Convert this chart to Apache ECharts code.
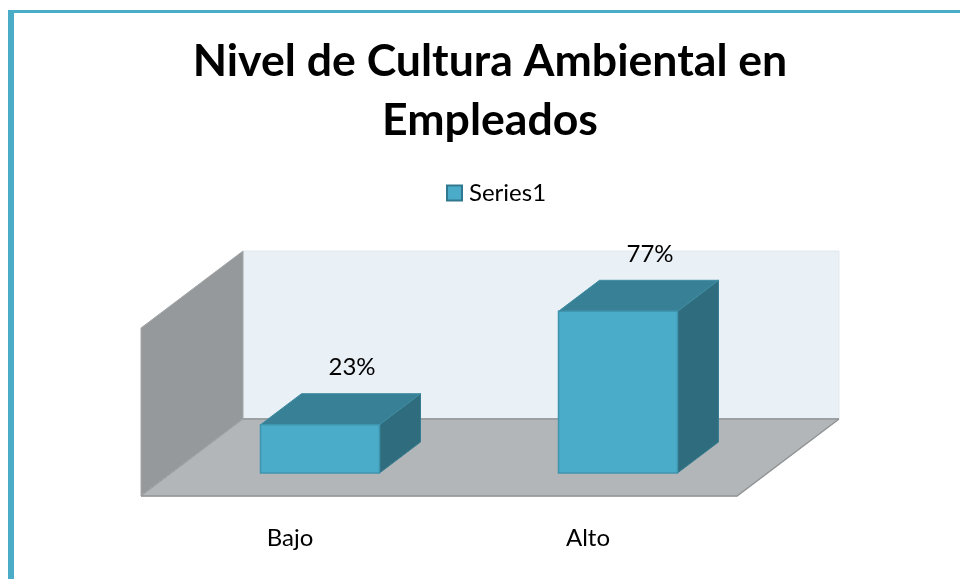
<!DOCTYPE html>
<html>
<head>
<meta charset="utf-8">
<style>html,body{margin:0;padding:0;background:#fff}#c{width:960px;height:579px}</style>
<script src="https://cdn.jsdelivr.net/npm/echarts@6/dist/echarts.min.js"></script>
</head>
<body>
<div id="c"></div>
<script>
const titleText = 'Nivel de Cultura Ambiental en\nEmpleados';
const seriesName = 'Series1';
const categories = ['Bajo', 'Alto'];
const seriesValues = [23, 77];
const axisMax = 80;

const FONT = 'Lato, Carlito, "Open Sans", sans-serif';
// oblique projection of the depth axis, in pixels
const depthX = 102, depthY = -77;
const barDepthX = 41, barDepthY = -31;
const barInsetX = 30, barInsetY = -23;
const barFraction = 119 / 298;

const chart = echarts.init(document.getElementById('c'), null, {renderer: 'canvas'});

function poly(points, fill, stroke, lineWidth) {
  return {type: 'polygon', shape: {points}, style: {fill, stroke: stroke || fill, lineWidth: lineWidth || 1}, silent: true};
}

function renderRoom(params) {
  const r = params.coordSys;
  const l = r.x, t = r.y, w = r.width, h = r.height, b = t + h;
  return {type: 'group', children: [
    poly([[l + depthX, t + depthY], [l + w + depthX, t + depthY], [l + w + depthX, b + depthY], [l + depthX, b + depthY]], '#e9f0f6', '#e3e9ee'),
    {type: 'polygon', shape: {points: [[l, t], [l + depthX, t + depthY], [l + depthX, b + depthY], [l, b]]},
     style: {fill: '#96999b', stroke: '#a4a8a9', lineWidth: 1}, silent: true},
    poly([[l, b], [l + w, b], [l + w + depthX, b + depthY], [l + depthX, b + depthY]], '#b2b6b9', '#b2b6b9'),
    {type: 'polyline', shape: {points: [[l + depthX, b + depthY], [l + w + depthX, b + depthY]]}, style: {fill: null, stroke: '#9da0a2', lineWidth: 2}, silent: true},
    {type: 'polyline', shape: {points: [[l, b], [l + depthX, b + depthY]]}, style: {fill: null, stroke: '#9a9d9f', lineWidth: 1}, silent: true},
    {type: 'polyline', shape: {points: [[l, b], [l + w, b], [l + w + depthX, b + depthY]]}, style: {fill: null, stroke: '#929596', lineWidth: 1.5}, silent: true}
  ]};
}

function renderBar(params, api) {
  const cat = api.value(0), val = api.value(1);
  const top = api.coord([cat, val]), base = api.coord([cat, 0]);
  const bw = api.size([1, 0])[0] * barFraction;
  const x0 = top[0] - bw / 2 + barInsetX, x1 = x0 + bw;
  const y0 = top[1] + barInsetY, y1 = base[1] + barInsetY;
  const dx = barDepthX, dy = barDepthY;
  const stroke = '#3f94ae';
  return {type: 'group', children: [
    poly([[x1, y0], [x1 + dx, y0 + dy], [x1 + dx, y1 + dy], [x1, y1]], '#2f6c7e', '#367d91'),
    poly([[x0, y0], [x0 + dx, y0 + dy], [x1 + dx, y0 + dy], [x1, y0]], '#378095', '#3f8ca1'),
    poly([[x0, y0], [x1, y0], [x1, y1], [x0, y1]], '#4aacc9', stroke, 1.5),
    {type: 'text', silent: true, style: {
      text: val + '%', x: (x0 + x1) / 2 + 32, y: y0 + dy - 26,
      align: 'center', verticalAlign: 'middle', fill: '#000', font: '24px ' + FONT}}
  ]};
}

chart.setOption({
  animation: false,
  backgroundColor: '#ffffff',
  title: {
    text: titleText, left: 485, top: 27, textAlign: 'center',
    textStyle: {fontFamily: FONT, fontWeight: 'bold', fontSize: 44.6, lineHeight: 59, color: '#000'}
  },
  legend: {
    data: [seriesName], left: 441, top: 176, icon: 'rect', itemWidth: 15, itemHeight: 15, itemGap: 9,
    textStyle: {fontFamily: FONT, fontSize: 24, color: '#000', padding: [0, 0, 0, 2]}
  },
  grid: {left: 141, top: 328, width: 596, height: 168},
  xAxis: {
    type: 'category', data: categories,
    axisLine: {show: false}, axisTick: {show: false}, splitLine: {show: false},
    axisLabel: {margin: 30, color: '#000', fontFamily: FONT, fontSize: 24}
  },
  yAxis: {type: 'value', min: 0, max: axisMax, show: false, splitLine: {show: false}},
  series: [
    {type: 'custom', name: 'Room', silent: true, renderItem: renderRoom, data: [[0, 0]], z: 1, clip: false},
    {type: 'custom', name: seriesName, renderItem: renderBar, z: 2, clip: false,
     encode: {x: 0, y: 1},
     itemStyle: {color: '#4aacc9', borderColor: '#31788f', borderWidth: 2},
     data: seriesValues.map((v, i) => [i, v])}
  ],
  graphic: [
    {type: 'rect', shape: {x: 8, y: 10, width: 6, height: 569}, style: {fill: '#4aacc6'}, silent: true},
    {type: 'rect', shape: {x: 8, y: 10, width: 952, height: 3}, style: {fill: '#4aacc6'}, silent: true}
  ]
});
</script>
</body>
</html>
